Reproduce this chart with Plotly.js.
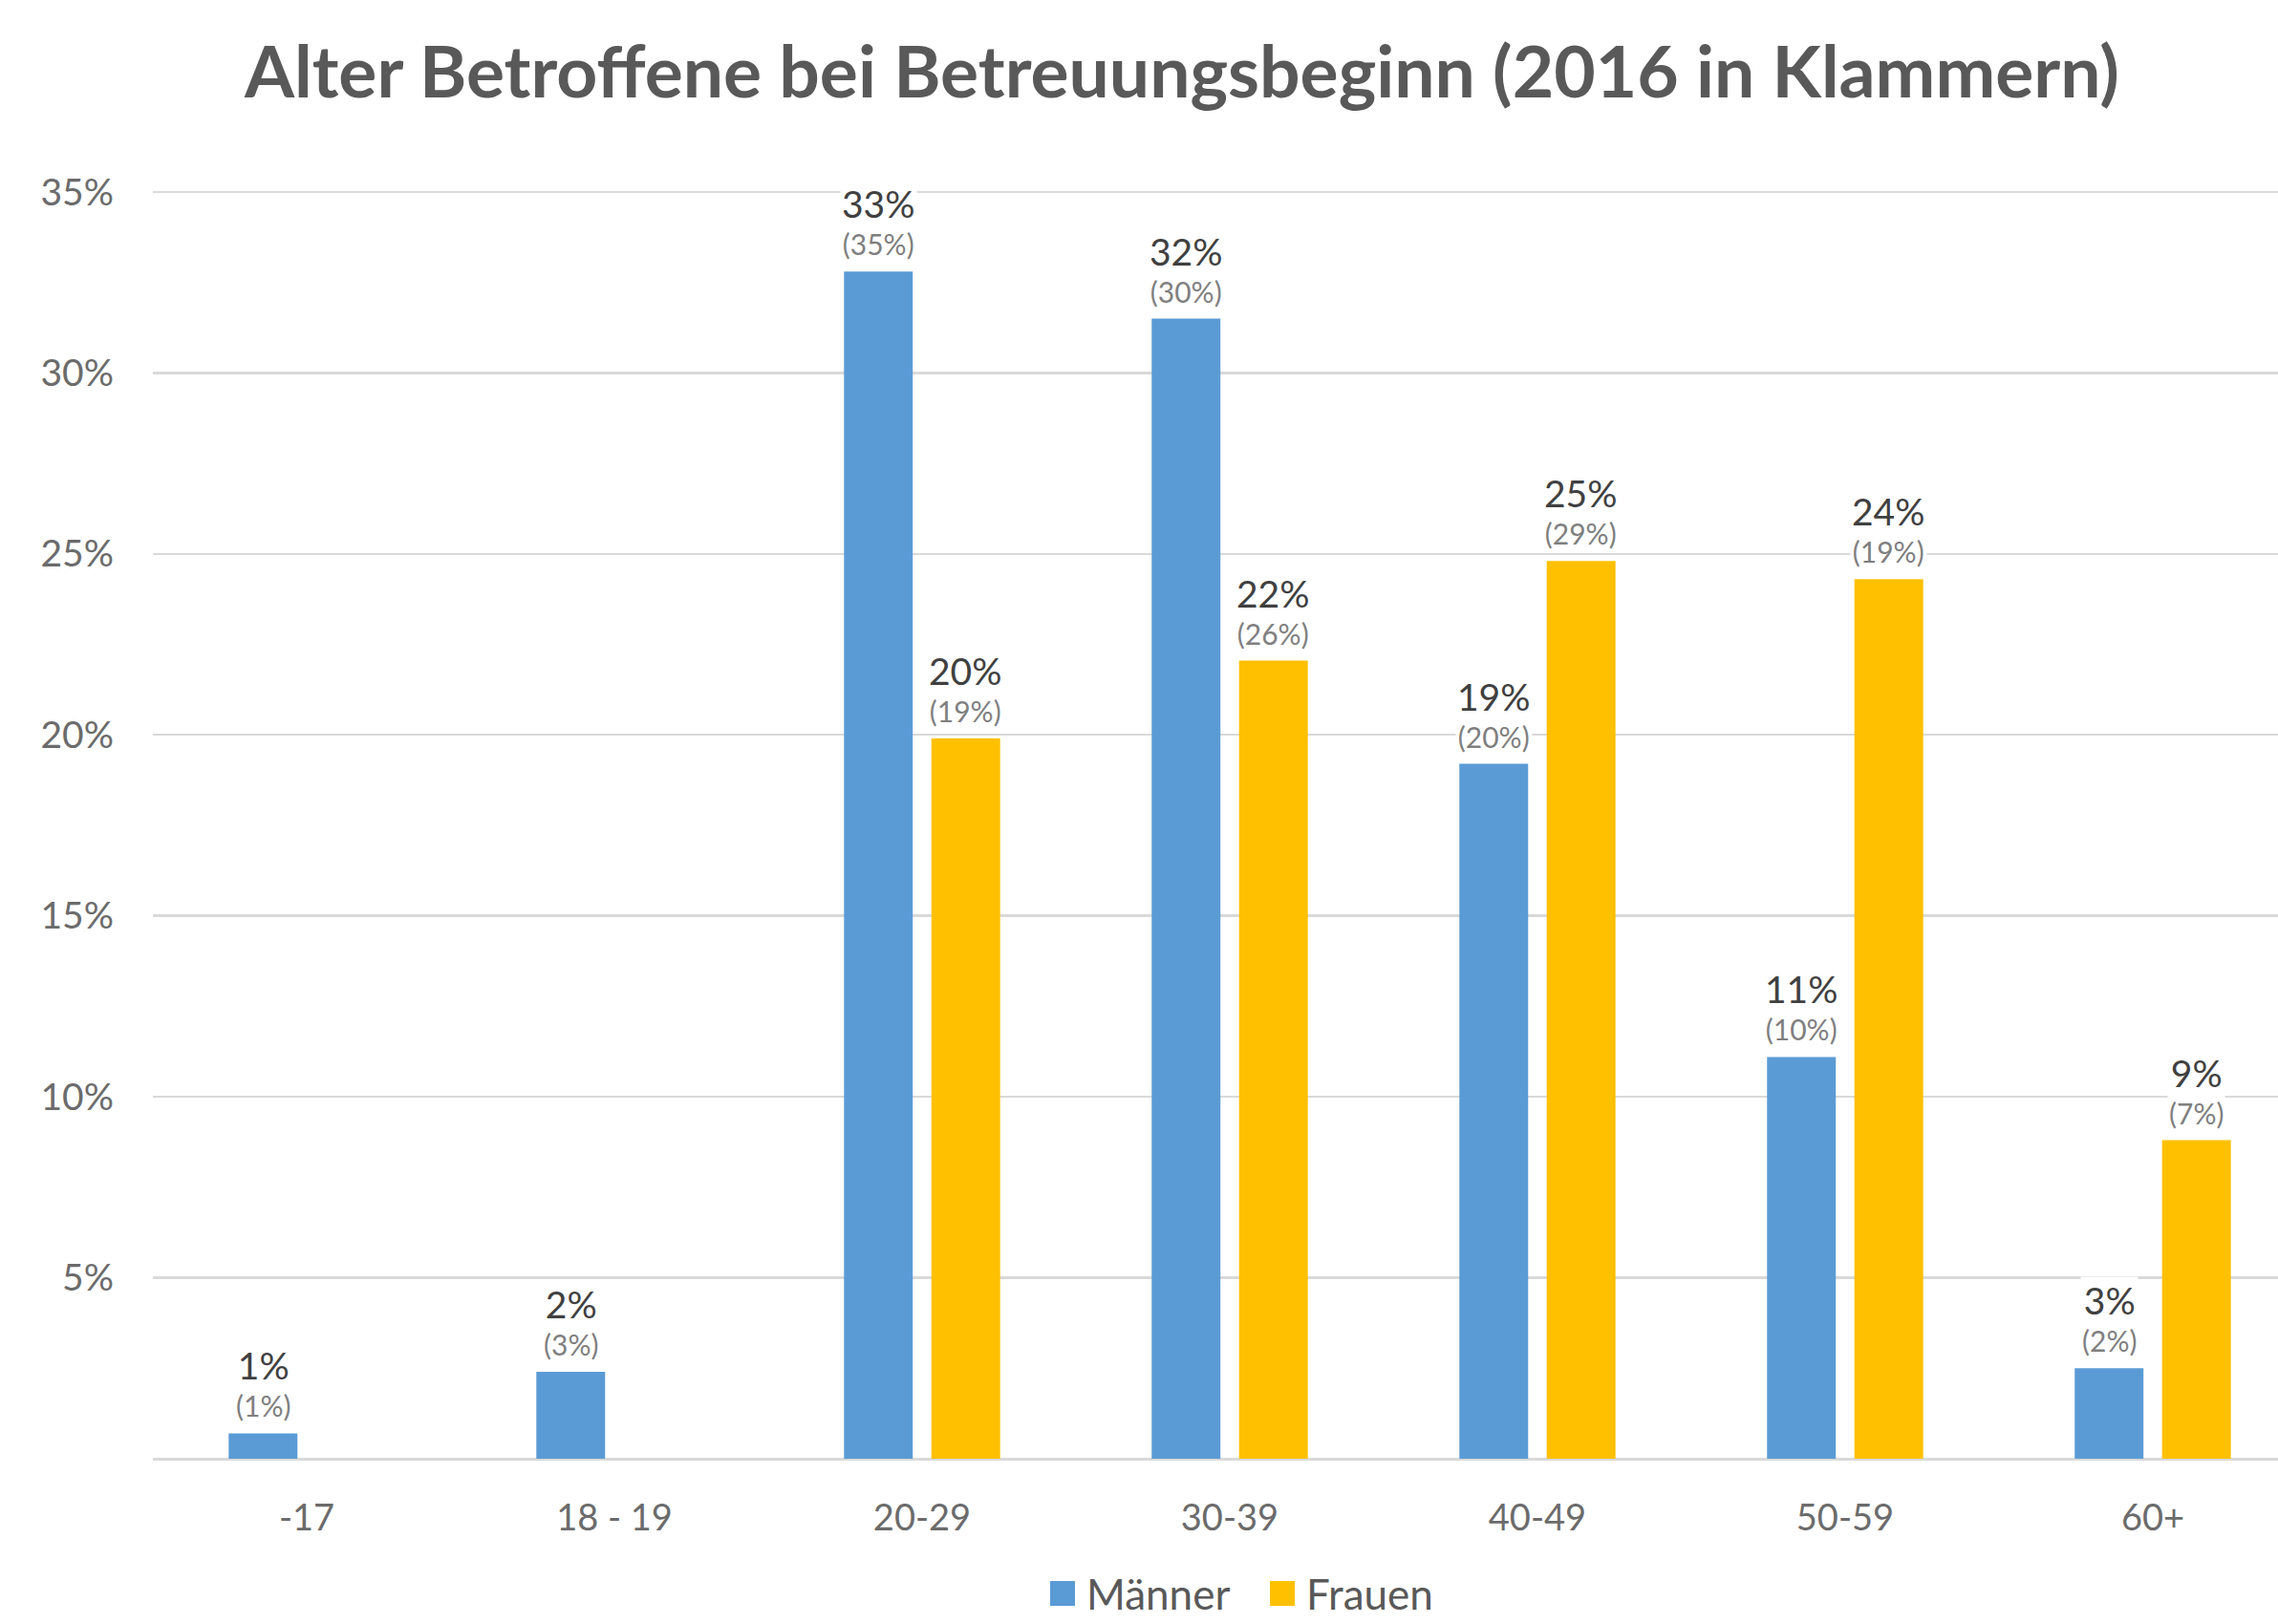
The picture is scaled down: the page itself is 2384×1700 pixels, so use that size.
<!DOCTYPE html>
<html>
<head>
<meta charset="utf-8">
<script src="https://cdn.plot.ly/plotly-3.0.1.min.js"></script>
<style>
  html, body { margin: 0; padding: 0; background: #ffffff; }
  #chart { width: 2384px; height: 1700px; }
</style>
</head>
<body>
<div id="chart"></div>
<script>
// ---- data ----
const categories = ['-17', '18 - 19', '20-29', '30-39', '40-49', '50-59', '60+'];
const maennerValues = [0.7, 2.4, 32.8, 31.5, 19.2, 11.1, 2.5];
const frauenValues = [null, null, 19.9, 22.05, 24.8, 24.3, 8.8];
const maennerLabels = ['1%', '2%', '33%', '32%', '19%', '11%', '3%'];
const maennerLabels2016 = ['(1%)', '(3%)', '(35%)', '(30%)', '(20%)', '(10%)', '(2%)'];
const frauenLabels = [null, null, '20%', '22%', '25%', '24%', '9%'];
const frauenLabels2016 = [null, null, '(19%)', '(26%)', '(29%)', '(19%)', '(7%)'];
const yTickVals = [5, 10, 15, 20, 25, 30, 35];
const yTickText = ['5%', '10%', '15%', '20%', '25%', '30%', '35%'];
const seriesNames = ['Männer', 'Frauen'];

// ---- style ----
const FONT = 'Lato, "Open Sans", sans-serif';
const colM = '#5b9bd5';
const colF = '#ffc000';
const BARGAP = 0.432, GROUPGAP = 0.213;
const W = 2384, H = 1700;
const plotLeft = 160, plotRight = 2384, plotTop = 199, plotBottom = 1527;
const xRange = [-0.5, 6.407];
const catPx = (plotRight - plotLeft) / (xRange[1] - xRange[0]);
const slotPx = catPx * (1 - BARGAP) / 2;

const traces = [
  { type: 'bar', name: seriesNames[0], x: categories, y: maennerValues,
    marker: { color: colM }, hoverinfo: 'skip', showlegend: false },
  { type: 'bar', name: seriesNames[1], x: categories, y: frauenValues,
    marker: { color: colF }, hoverinfo: 'skip', showlegend: false }
];

// two-line data labels: current value (large, dark) over 2016 value (small, grey)
const annotations = [];
function addLabels(vals, main, sub, shift) {
  vals.forEach((v, i) => {
    if (v === null || main[i] === null) return;
    annotations.push({
      x: i, y: v, xref: 'x', yref: 'y', xshift: shift, yshift: 9,
      text: '<span style="font-size:39px;color:#404040">' + main[i] + '</span><br>' + sub[i],
      showarrow: false, yanchor: 'bottom', xanchor: 'center', align: 'center',
      bgcolor: '#ffffff', borderpad: 1,
      font: { family: FONT, size: 30, color: '#7f7f7f' }
    });
  });
}
addLabels(maennerValues, maennerLabels, maennerLabels2016, -slotPx / 2);
addLabels(frauenValues, frauenLabels, frauenLabels2016, slotPx / 2);

// ---- legend (drawn as layout items so the swatches can be large) ----
const px2x = px => (px - plotLeft) / (plotRight - plotLeft);
const px2y = py => (plotBottom - py) / (plotBottom - plotTop);
const legendY = 1668, sw = 26;
const legendItems = [
  { name: seriesNames[0], color: colM, swatchX: 1099, textX: 1135 },
  { name: seriesNames[1], color: colF, swatchX: 1329, textX: 1365 }
];
const shapes = [];
legendItems.forEach(it => {
  shapes.push({
    type: 'rect', xref: 'paper', yref: 'paper',
    x0: px2x(it.swatchX), x1: px2x(it.swatchX + sw),
    y0: px2y(legendY + sw / 2), y1: px2y(legendY - sw / 2),
    fillcolor: it.color, line: { width: 0 }
  });
  annotations.push({
    xref: 'paper', yref: 'paper', x: px2x(it.textX), y: px2y(legendY),
    xanchor: 'left', yanchor: 'middle', showarrow: false, text: it.name,
    font: { family: FONT, size: 44, color: '#595959' }
  });
});

const layout = {
  width: W, height: H,
  paper_bgcolor: '#ffffff', plot_bgcolor: '#ffffff',
  margin: { l: plotLeft, r: W - plotRight, t: plotTop, b: H - plotBottom, pad: 0 },
  font: { family: FONT, color: '#595959' },
  title: {
    text: '<b>Alter Betroffene bei Betreuungsbeginn (2016 in Klammern)</b>',
    font: { family: FONT, size: 75, color: '#595959' },
    x: 1237 / W, xanchor: 'center', xref: 'container',
    y: 1 - 76 / H, yanchor: 'middle', yref: 'container'
  },
  barmode: 'group', bargap: BARGAP, bargroupgap: GROUPGAP,
  xaxis: {
    type: 'category', range: xRange, fixedrange: true,
    showgrid: false, zeroline: false, showline: false, ticks: '',
    ticklabelstandoff: 36,
    tickfont: { family: FONT, size: 38, color: '#6b6b6b' }
  },
  yaxis: {
    range: [0, 35.05], fixedrange: true,
    tickvals: yTickVals, ticktext: yTickText,
    showgrid: true, gridcolor: '#d9d9d9', gridwidth: 2.5,
    zeroline: true, zerolinecolor: '#d9d9d9', zerolinewidth: 3,
    showline: false, ticks: '', ticklabelstandoff: 40,
    tickfont: { family: FONT, size: 39, color: '#6b6b6b' }
  },
  showlegend: false,
  shapes: shapes,
  annotations: annotations
};

Plotly.newPlot('chart', traces, layout, { staticPlot: true, displayModeBar: false });
</script>
</body>
</html>
